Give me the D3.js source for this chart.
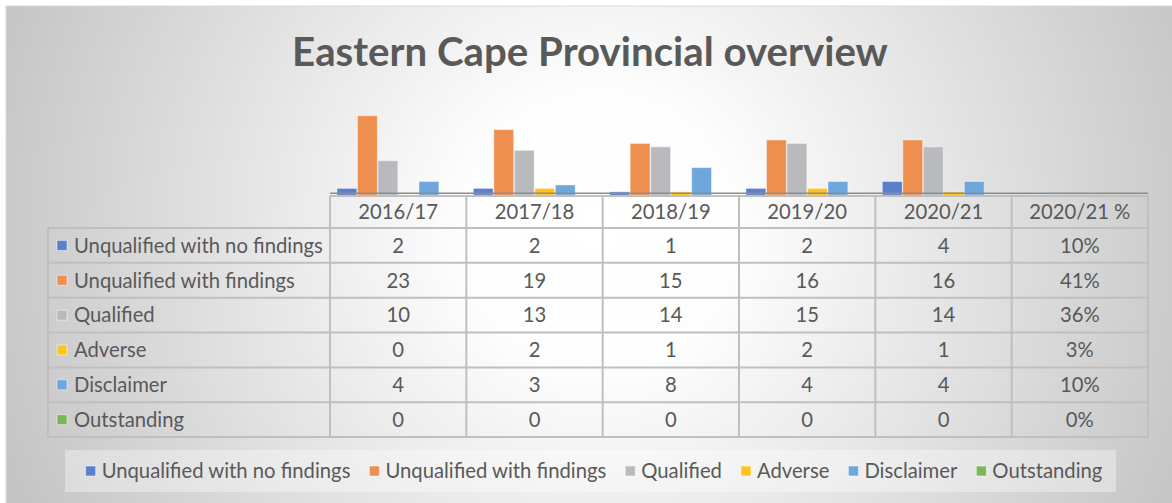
<!DOCTYPE html>
<html>
<head>
<meta charset="utf-8">
<script src="https://cdn.jsdelivr.net/npm/d3@7/dist/d3.min.js"></script>
<style>
  body { margin: 0; background: #fff; }
  text { font-family: Lato, "Open Sans", sans-serif; fill: #595959; }
</style>
</head>
<body>
<div id="chart"></div>
<script>
const W = 1172, H = 503

// data
const categories = ["2016/17", "2017/18", "2018/19", "2019/20", "2020/21", "2020/21 %"]
const yearCategories = categories.slice(0, 5)
const seriesNames = ["Unqualified with no findings", "Unqualified with findings", "Qualified", "Adverse", "Disclaimer", "Outstanding"]
const seriesColors = ["#5a7fcb", "#ef8f4f", "#b9babd", "#fec323", "#6fa7dc", "#7db55a"]

const unqualifiedNoFindings = [2, 2, 1, 2, 4]
const unqualifiedFindings   = [23, 19, 15, 16, 16]
const qualified             = [10, 13, 14, 15, 14]
const adverse               = [0, 2, 1, 2, 1]
const disclaimer            = [4, 3, 8, 4, 4]
const outstanding           = [0, 0, 0, 0, 0]
const pctLabels = ["10%", "41%", "36%", "3%", "10%", "0%"]

const seriesValues = [unqualifiedNoFindings, unqualifiedFindings, qualified, adverse, disclaimer, outstanding]

// layout
const tableLeft = 48, tableRight = 1148, plotLeft = 330
const headerTop = 196, rowTop = 228, rowH = 34.85
const baseY = 195.3

const svg = d3.select('#chart').append('svg')
  .attr('width', W)
  .attr('height', H)

let defs = svg.append('defs')
let grad = defs.append('radialGradient')
  .attr('id', 'bg')
  .attr('gradientUnits', 'userSpaceOnUse')
  .attr('cx', 600).attr('cy', 230).attr('r', 640)
grad.append('stop').attr('offset', 0).attr('stop-color', '#ffffff')
grad.append('stop').attr('offset', 0.22).attr('stop-color', '#fdfdfd')
grad.append('stop').attr('offset', 1).attr('stop-color', '#c4c4c4')

svg.append('rect')
  .attr('x', 6).attr('y', 6)
  .attr('width', W).attr('height', H)
  .attr('fill', 'url(#bg)')
  .attr('stroke', '#d9d9d9')

// title, fitted to the width seen in the picture
let title = svg.append('text')
  .attr('x', 590).attr('y', 66)
  .attr('text-anchor', 'middle')
  .style('font-weight', 'bold')
  .style('font-size', '36px')
  .text('Eastern Cape Provincial overview')
let tw = title.node().getComputedTextLength()
title.style('font-size', (36 * 596 / tw) + 'px')

// fit body font so the longest label is ~249px like the reference
let probe = svg.append('text').style('font-size', '20px').text(seriesNames[0])
let fontSize = 20 * 249 / probe.node().getComputedTextLength()
probe.remove()

const x0 = d3.scaleBand().domain(categories).range([plotLeft, tableRight]).padding(0)
const x1 = d3.scaleBand().domain(seriesNames).range([0, x0.bandwidth()])
  .paddingOuter(0.34).paddingInner(0.03)
const y = d3.scaleLinear().domain([0, 25]).range([baseY, baseY - 25 * 3.46])

// bars
let bars = []
yearCategories.forEach((cat, ci) => {
  seriesNames.forEach((name, si) => {
    bars.push({cat: cat, name: name, value: seriesValues[si][ci], color: seriesColors[si]})
  })
})

svg.append('g').selectAll('rect')
  .data(bars)
  .join('rect')
    .attr('x', d => x0(d.cat) + x1(d.name))
    .attr('y', d => y(d.value))
    .attr('width', x1.bandwidth())
    .attr('height', d => y(0) - y(d.value))
    .attr('fill', d => d.color)
    .attr('stroke', '#ffffff')
    .attr('stroke-opacity', 0.45)
    .attr('stroke-width', 1)

// table grid
const rowY = d => rowTop + d * rowH
const tableBottom = rowY(seriesNames.length)
let grid = svg.append('g')
  .attr('stroke', '#bfbfbf')
  .attr('stroke-width', 2)
  .attr('fill', 'none')

grid.append('line').attr('x1', plotLeft).attr('x2', tableRight).attr('y1', headerTop).attr('y2', headerTop)
d3.range(seriesNames.length + 1).forEach(i => {
  grid.append('line').attr('x1', tableLeft).attr('x2', tableRight).attr('y1', rowY(i)).attr('y2', rowY(i))
})
grid.append('line').attr('x1', tableLeft).attr('x2', tableLeft).attr('y1', rowTop).attr('y2', tableBottom)
categories.forEach(c => {
  grid.append('line').attr('x1', x0(c)).attr('x2', x0(c)).attr('y1', headerTop).attr('y2', tableBottom)
})
grid.append('line').attr('x1', tableRight).attr('x2', tableRight).attr('y1', headerTop).attr('y2', tableBottom)

// axis line
svg.append('line')
  .attr('x1', plotLeft).attr('x2', tableRight)
  .attr('y1', 193.2).attr('y2', 193.2)
  .attr('stroke', '#8c8c8c')
  .attr('stroke-width', 1.6)

// header labels
svg.append('g').selectAll('text')
  .data(categories)
  .join('text')
    .attr('x', d => x0(d) + x0.bandwidth() / 2)
    .attr('y', (headerTop + rowTop) / 2)
    .attr('dy', '0.36em')
    .attr('text-anchor', 'middle')
    .style('font-size', fontSize + 'px')
    .text(d => d)

// rows
let rows = svg.append('g').selectAll('g')
  .data(seriesNames)
  .join('g')
    .attr('transform', (d, i) => `translate(0,${rowY(i) + rowH / 2})`)

rows.append('rect')
  .attr('x', 57).attr('y', -5)
  .attr('width', 10).attr('height', 10)
  .attr('fill', (d, i) => seriesColors[i])
  .attr('stroke', '#ffffff').attr('stroke-opacity', 0.5)

rows.append('text')
  .attr('x', 74)
  .attr('dy', '0.36em')
  .style('font-size', fontSize + 'px')
  .text(d => d)

rows.each(function(name, si) {
  let cells = seriesValues[si].map(String).concat([pctLabels[si]])
  d3.select(this).selectAll('text.cell')
    .data(cells)
    .join('text')
      .attr('class', 'cell')
      .attr('x', (d, ci) => x0(categories[ci]) + x0.bandwidth() / 2)
      .attr('dy', '0.36em')
      .attr('text-anchor', 'middle')
      .style('font-size', fontSize + 'px')
      .text(d => d)
})

// legend
const legendCenter = 594, legendY = 471
svg.append('rect')
  .attr('x', 65).attr('y', 450)
  .attr('width', 1116 - 65).attr('height', 42)
  .attr('fill', '#ffffff')
  .attr('fill-opacity', 0.35)

let legend = svg.append('g')
let items = legend.selectAll('g')
  .data(seriesNames)
  .join('g')
items.append('rect')
  .attr('y', -5)
  .attr('width', 10).attr('height', 10)
  .attr('fill', (d, i) => seriesColors[i])
  .attr('stroke', '#ffffff').attr('stroke-opacity', 0.5)
items.append('text')
  .attr('x', 16)
  .attr('dy', '0.36em')
  .style('font-size', fontSize + 'px')
  .text(d => d)

let widths = []
items.selectAll('text').each(function() { widths.push(16 + this.getComputedTextLength()) })
let gap = 19
let total = d3.sum(widths) + gap * (widths.length - 1)
let cursor = legendCenter - total / 2
items.attr('transform', (d, i) => {
  let t = `translate(${cursor},${legendY})`
  cursor += widths[i] + gap
  return t
})
</script>
</body>
</html>
